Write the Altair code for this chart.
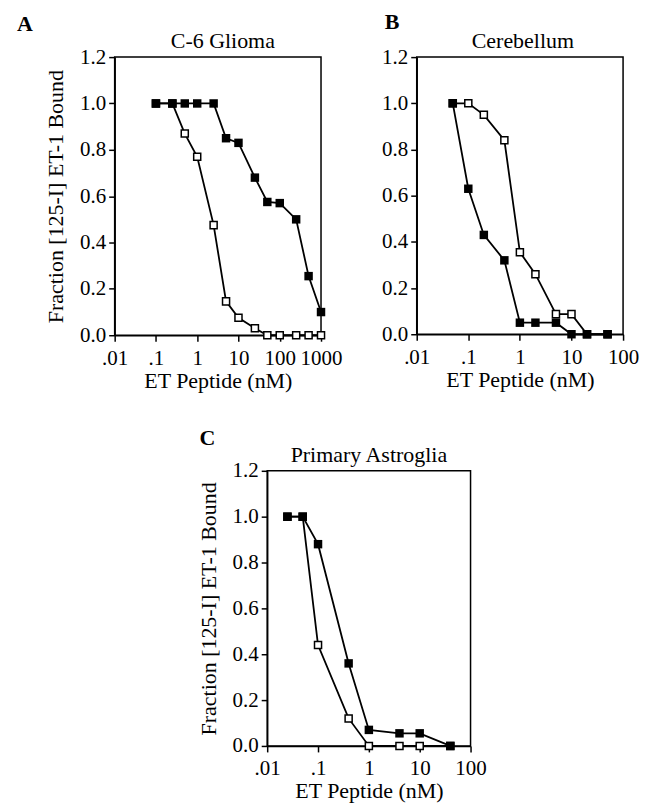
import altair as alt
import pandas as pd

# ---------------- data ----------------
# Panel A: C-6 Glioma
a_x = [0.1, 0.25, 0.5, 1, 2.5, 5, 10, 25, 50, 100, 250, 500, 1000]
a_filled = [1.0, 1.0, 1.0, 1.0, 1.0, 0.85, 0.83, 0.68, 0.575, 0.57, 0.50, 0.255, 0.10]
a_open = [1.0, 1.0, 0.87, 0.77, 0.475, 0.146, 0.075, 0.03, 0.0, 0.0, 0.0, 0.0, 0.0]

# Panel B: Cerebellum
b_x = [0.05, 0.1, 0.2, 0.5, 1, 2, 5, 10, 20, 50]
b_filled = [1.0, 0.63, 0.43, 0.32, 0.05, 0.05, 0.05, 0.0, 0.0, 0.0]
b_open = [1.0, 1.0, 0.95, 0.84, 0.355, 0.26, 0.087, 0.087, 0.0, 0.0]

# Panel C: Primary Astroglia
c_x = [0.025, 0.05, 0.1, 0.4, 1, 4, 10, 40]
c_filled = [1.0, 1.0, 0.88, 0.36, 0.07, 0.055, 0.055, 0.0]
c_open = [1.0, 1.0, 0.44, 0.12, 0.0, 0.0, 0.0, 0.0]

y_ticks = [0.0, 0.2, 0.4, 0.6, 0.8, 1.0, 1.2]
x_ticks_a = [0.01, 0.1, 1, 10, 100, 1000]
x_ticks_bc = [0.01, 0.1, 1, 10, 100]

FONT = "Liberation Serif"
LABEL_EXPR = "datum.value < 0.05 ? '.01' : datum.value < 0.5 ? '.1' : format(datum.value, 'd')"
YTITLE = "Fraction [125-I] ET-1 Bound"


def panel(xs, filled, opn, xmax, xvals, w, h, title, title_dx, letter, lx, ly, ytitle):
    n = len(xs)
    df = pd.DataFrame({
        "x": list(xs) * 2,
        "y": list(filled) + list(opn),
        "s": ["filled"] * n + ["open"] * n,
    })
    x_enc = alt.X("x:Q",
                  scale=alt.Scale(type="log", domain=[0.01, xmax], nice=False),
                  axis=alt.Axis(values=xvals, labelExpr=LABEL_EXPR, title="ET Peptide (nM)"))
    if ytitle:
        y_axis = alt.Axis(values=y_ticks, format=".1f", title=ytitle)
    else:
        y_axis = alt.Axis(values=y_ticks, format=".1f", title=None)
    y_enc = alt.Y("y:Q", scale=alt.Scale(domain=[0, 1.2], nice=False), axis=y_axis)

    base = alt.Chart(df).encode(x=x_enc, y=y_enc)
    lines = base.mark_line(color="black", strokeWidth=1.8).encode(detail="s:N")
    open_pts = base.transform_filter(alt.datum.s == "open").mark_square(
        size=50, fill="white", stroke="black", strokeWidth=1.5, opacity=1)
    fill_pts = base.transform_filter(alt.datum.s == "filled").mark_square(
        size=72, color="black", opacity=1)
    txt = pd.DataFrame({"t": [letter]})
    lab = alt.Chart(txt).mark_text(
        font=FONT, fontSize=22, fontWeight="bold", align="left",
        baseline="alphabetic", color="black").encode(
        text="t:N", x=alt.value(lx), y=alt.value(ly))
    ttl = alt.Chart(pd.DataFrame({"t": [title]})).mark_text(
        font=FONT, fontSize=22, align="center", baseline="alphabetic",
        color="black").encode(
        text="t:N", x=alt.value(w / 2 + title_dx), y=alt.value(-9))
    # invisible guide that fixes the panel's top extent
    guide = alt.Chart(txt).mark_rule(strokeOpacity=0, stroke="white").encode(
        x=alt.value(0), x2=alt.value(1), y=alt.value(-45))
    return alt.layer(lines, open_pts, fill_pts, lab, ttl, guide).properties(
        width=w, height=h)


A = panel(a_x, a_filled, a_open, 1000, x_ticks_a, 207, 279, "C-6 Glioma", 5,
          "A", -98, -26, YTITLE)
B = panel(b_x, b_filled, b_open, 100, x_ticks_bc, 207, 278, "Cerebellum", 3,
          "B", -32, -28, None)
C = panel(c_x, c_filled, c_open, 100, x_ticks_bc, 204, 276, "Primary Astroglia", 0,
          "C", -68, -26, YTITLE)

spacer = alt.Chart(pd.DataFrame({"v": [0]})).mark_rule(strokeOpacity=0, stroke="white").encode(
    x=alt.value(0), x2=alt.value(1), y=alt.value(0)
).properties(width=81, height=1, view=alt.ViewBackground(strokeOpacity=0))

chart = alt.vconcat(
    alt.hconcat(A, B, spacing=38),
    alt.hconcat(spacer, C, spacing=0),
    spacing=33,
).properties(
    padding={"left": 8, "top": 1, "right": 5, "bottom": 5}
).configure_axis(
    labelFont=FONT, labelFontSize=21, labelColor="black",
    titleFont=FONT, titleFontSize=22, titleFontWeight="normal", titleColor="black",
    domainColor="black", domainWidth=1.5, tickColor="black", tickWidth=1.5,
    tickSize=6, grid=False, labelFlush=False, labelOverlap=False,
).configure_axisX(
    labelPadding=6, titlePadding=2
).configure_axisY(
    labelPadding=3, titlePadding=12
).configure_view(
    stroke="black", strokeWidth=1.5
)

chart.save("out.html", embed_options={"renderer": "svg", "actions": False})
